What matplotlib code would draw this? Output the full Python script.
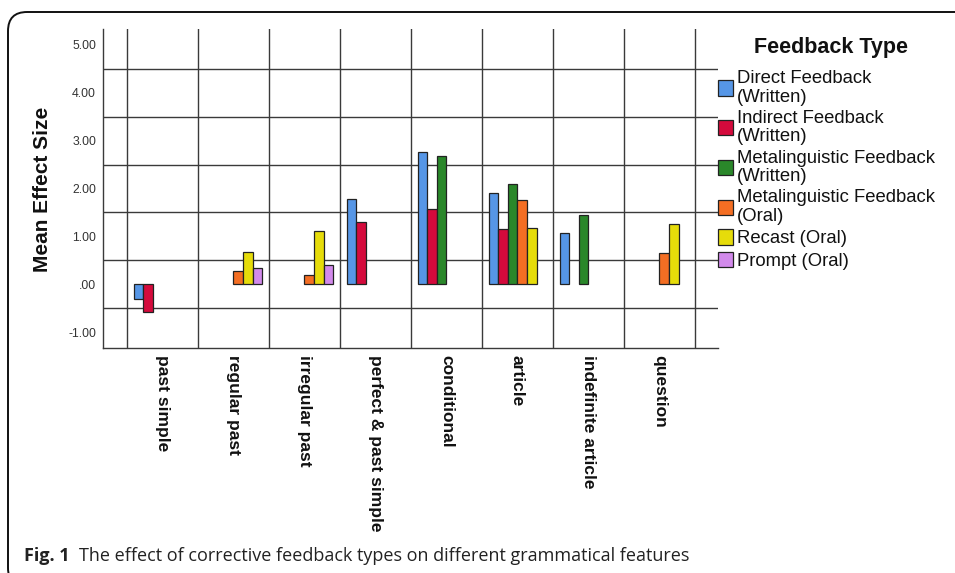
import numpy as np
import matplotlib
matplotlib.use("Agg")
import matplotlib.pyplot as plt
from matplotlib.patches import Patch, FancyBboxPatch

# ---- data ----
categories = ["past simple", "regular past", "irregular past", "perfect & past simple",
              "conditional", "article", "indefinite article", "question"]
series_names = ["Direct Feedback\n(Written)", "Indirect Feedback\n(Written)",
                "Metalinguistic Feedback\n(Written)", "Metalinguistic Feedback\n(Oral)",
                "Recast (Oral)", "Prompt (Oral)"]
nan = np.nan
direct_written = [-0.30, nan, nan, 1.78, 2.76, 1.90, 1.07, nan]
indirect_written = [-0.58, nan, nan, 1.30, 1.58, 1.16, nan, nan]
meta_written = [nan, nan, nan, nan, 2.68, 2.09, 1.44, nan]
meta_oral = [nan, 0.28, 0.20, nan, nan, 1.77, nan, 0.65]
recast_oral = [nan, 0.68, 1.11, nan, nan, 1.17, nan, 1.25]
prompt_oral = [nan, 0.35, 0.40, nan, nan, nan, nan, nan]
series = [direct_written, indirect_written, meta_written, meta_oral, recast_oral, prompt_oral]
colors = ["#5696E6", "#D40A3C", "#2A872A", "#F46E23", "#E6DC0A", "#D28AEB"]
y_ticks = [5, 4, 3, 2, 1, 0, -1]
y_ticklabels = ["5.00", "4.00", "3.00", "2.00", "1.00", ".00", "-1.00"]

W, H = 955, 573
fig = plt.figure(figsize=(W / 100, H / 100), dpi=100)

# outer rounded frame (cut off at right and bottom like the page crop)
frame = FancyBboxPatch((8 / W, -14 / H), 1.1, 1 - 12 / H + 14 / H,
                       boxstyle="round,pad=0,rounding_size=0.02",
                       transform=fig.transFigure, fill=False, ec="#111111", lw=1.4,
                       mutation_aspect=W / H)
fig.patches.append(frame)

ax = fig.add_axes([103 / W, 1 - 348 / H, 615 / W, 319 / H])
ax.set_xlim(-0.838, 7.824)
ax.set_ylim(-1.323, 5.323)

x = np.arange(len(categories))
bw = 0.134
for k, (vals, col, name) in enumerate(zip(series, colors, series_names)):
    vals = np.array(vals, dtype=float)
    ok = ~np.isnan(vals)
    ax.bar(x[ok] + (k - 2.5) * bw, vals[ok], width=bw, color=col,
           edgecolor="#222222", linewidth=0.9, zorder=3, label=name)

# grid: horizontal lines between the value ticks, vertical between categories
grid_kw = dict(color="#3a3a3a", lw=1.0, zorder=1)
for yv in np.arange(-0.5, 5.0, 1.0):
    ax.axhline(yv, **grid_kw)
for xv in np.arange(-0.5, len(categories), 1.0):
    ax.axvline(xv, **grid_kw)

for s in ["top", "right"]:
    ax.spines[s].set_visible(False)
for s in ["left", "bottom"]:
    ax.spines[s].set_color("#3a3a3a")
    ax.spines[s].set_linewidth(1.0)

ax.set_yticks(y_ticks)
ax.set_yticklabels(y_ticklabels, fontsize=8.8, color="#333333", family="Liberation Sans")
ax.set_xticks(x)
ax.set_xticklabels(categories, rotation=-90, va="top", ha="center", fontsize=12.5,
                   fontweight="bold", family="Liberation Sans", color="#111111")
ax.tick_params(axis="both", length=0)
ax.tick_params(axis="y", pad=5)
ax.tick_params(axis="x", pad=5)

fig.text(43 / W, 1 - 189 / H, "Mean Effect Size", rotation=90, ha="center", va="center",
         fontsize=15, fontweight="bold", family="Liberation Sans", color="#111111")

# legend
handles = [Patch(facecolor=c, edgecolor="#222222", linewidth=0.9) for c in colors]
leg = fig.legend(handles, series_names, loc="upper left",
                 bbox_to_anchor=(718 / W, 1 - 70 / H), frameon=False,
                 prop=dict(family="Liberation Sans", size=13.3),
                 handlelength=0.82, handleheight=0.9, handletextpad=0.22,
                 labelspacing=0.23, borderpad=0, borderaxespad=0)
for t in leg.get_texts():
    t.set_linespacing(1.12)
    t.set_color("#111111")
fig.text(831 / W, 1 - 48 / H, "Feedback Type", ha="center", va="center",
         fontsize=15.5, fontweight="bold", family="Liberation Sans", color="#111111")

# caption
fig.text(24 / W, 1 - 556 / H, "Fig. 1", ha="left", va="center", fontsize=13,
         fontweight="bold", family="Open Sans", color="#222222")
fig.text(79 / W, 1 - 556 / H,
         "The effect of corrective feedback types on different grammatical features",
         ha="left", va="center", fontsize=13, family="Open Sans", color="#222222")

fig.savefig("out.png", dpi=100)
